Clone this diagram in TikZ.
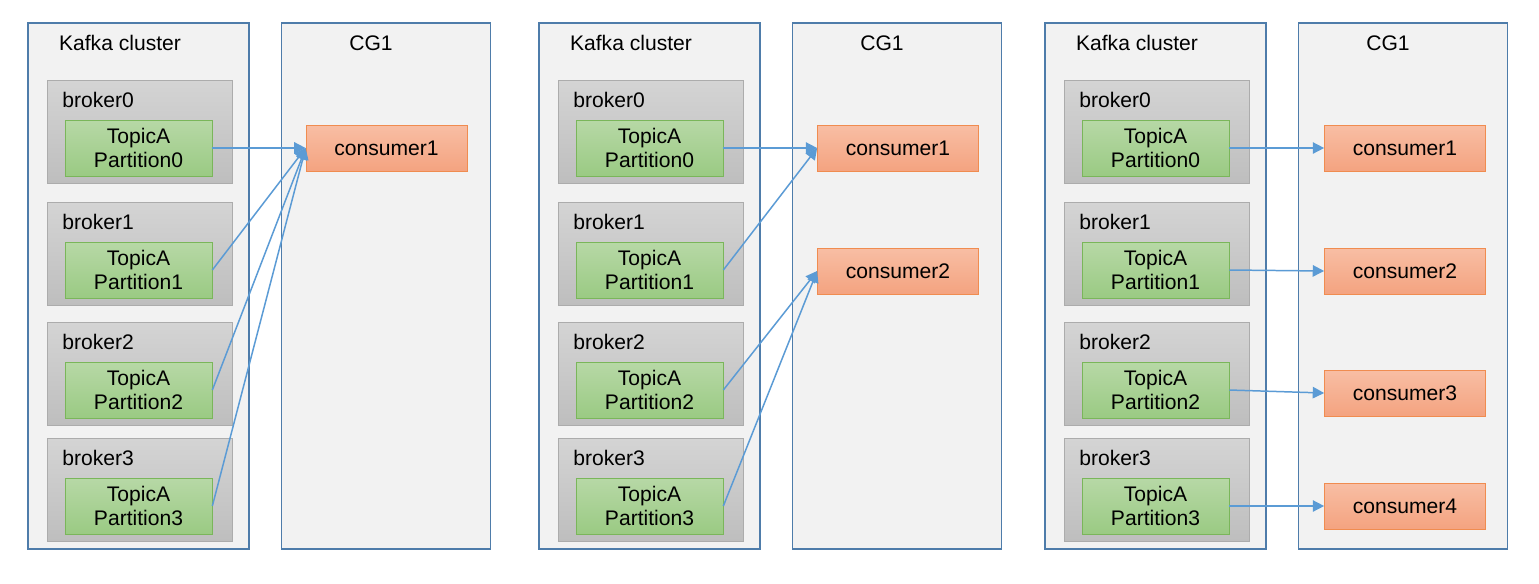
\documentclass[tikz,border=0pt]{standalone}
\usepackage{fontspec}
\setmainfont{Liberation Sans}
\usepackage{tikz}
\usetikzlibrary{arrows.meta, positioning}
\definecolor{frameblue}{RGB}{78, 124, 170}
\definecolor{panelgray}{RGB}{242, 242, 242}
\definecolor{brokertop}{RGB}{212, 212, 212}
\definecolor{brokerbot}{RGB}{190, 190, 190}
\definecolor{brokerline}{RGB}{172, 172, 172}
\definecolor{parttop}{RGB}{183, 216, 166}
\definecolor{partbot}{RGB}{154, 202, 131}
\definecolor{partline}{RGB}{122, 182, 90}
\definecolor{constop}{RGB}{248, 190, 164}
\definecolor{consbot}{RGB}{244, 163, 128}
\definecolor{consline}{RGB}{240, 140, 80}
\definecolor{arrowblue}{RGB}{91, 155, 213}

\begin{document}
\begin{tikzpicture}[
    x=0.02cm, y=-0.02cm,
    cluster/.style={rectangle, draw=frameblue, line width=1.1pt, fill=panelgray, minimum width=4.42cm, minimum height=10.52cm},
    group/.style={rectangle, draw=frameblue, line width=1.1pt, fill=panelgray, minimum width=4.18cm, minimum height=10.52cm},
    broker/.style={rectangle, draw=brokerline, top color=brokertop, bottom color=brokerbot, minimum width=3.7cm, minimum height=2.06cm},
    part/.style={rectangle, draw=partline, top color=parttop, bottom color=partbot, minimum width=2.94cm, minimum height=1.12cm, align=center},
    cons/.style={rectangle, draw=consline, top color=constop, bottom color=consbot, minimum width=3.22cm, minimum height=0.92cm},
    arr/.style={-{Triangle[length=6.5pt, width=6.5pt]}, line width=0.85pt, arrowblue},
    every node/.style={font=\fontsize{12}{13.5}\selectfont, inner sep=0pt}
]
\useasboundingbox[fill=white] (0,0) rectangle (1539,583);

% Kafka cluster and consumer group frames
\foreach \p/\dx in {1/0, 2/511, 3/1017} {
    \node[cluster] (kc\p) at ({138.5+\dx}, 286) {};
    \node[group] (cg\p) at ({386+\dx}, 286) {};
    \node (kl\p) at ({120+\dx}, 43) {Kafka cluster};
    \node (gl\p) at ({371+\dx}, 43) {CG1};
    % brokers with their partitions
    \foreach \i/\by/\py in {0/131.5/148, 1/253.5/270, 2/373.5/390, 3/489.5/506} {
        \node[broker] (b\p\i) at ({139.5+\dx}, \by) {};
        \node[anchor=west] (bl\p\i) at ({62+\dx}, {\by-31.5}) {broker\i};
        \node[part] (t\p\i) at ({138.5+\dx}, \py) {TopicA\\Partition\i};
    }
}

% Consumers
\node[cons] (c11) at (386.5, 148) {consumer1};

\node[cons] (c21) at (898, 148) {consumer1};
\node[cons] (c22) at (898, 271) {consumer2};

\node[cons] (c31) at (1405, 148) {consumer1};
\node[cons] (c32) at (1405, 271) {consumer2};
\node[cons] (c33) at (1405, 393) {consumer3};
\node[cons] (c34) at (1405, 506) {consumer4};

% Partition assignment
\foreach \i in {0,...,3} {
    \draw[arr] (t1\i.east) -- (c11.west);
}
\foreach \i/\c in {0/1, 1/1, 2/2, 3/2} {
    \draw[arr] (t2\i.east) -- (c2\c.west);
}
\foreach \i/\c in {0/1, 1/2, 2/3, 3/4} {
    \draw[arr] (t3\i.east) -- (c3\c.west);
}

\end{tikzpicture}
\end{document}
